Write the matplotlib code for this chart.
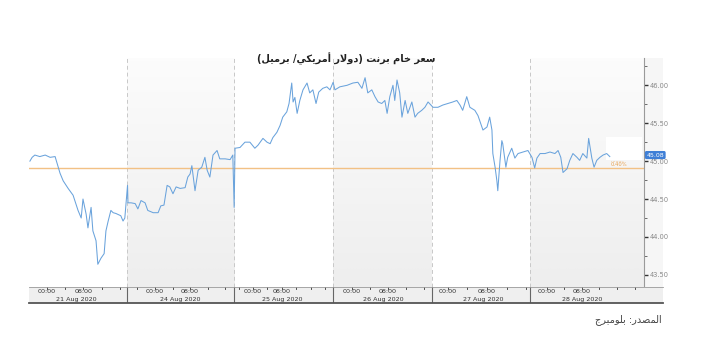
import matplotlib
matplotlib.use("Agg")
import matplotlib.pyplot as plt
import numpy as np
from matplotlib.patches import Rectangle
from matplotlib.colors import LinearSegmentedColormap
from matplotlib.ticker import MultipleLocator, FormatStrFormatter

# hours counted from the left edge of the chart (trading sessions only)
hours = [0.2, 0.7, 1.3, 2.4, 3.6, 4.7, 5.8, 6.2, 6.9, 7.6, 8.7, 9.8, 10.9, 11.6, 12.0,
         12.7, 13.1, 13.8, 14.2, 14.9, 15.3, 16.0, 16.7, 17.1, 17.6, 18.2, 18.7, 19.3,
         20.4, 20.9, 21.3, 21.9, 22.0, 22.7, 23.6, 24.2, 24.9, 25.8, 26.4, 27.6, 28.7,
         29.3, 30.0, 30.7, 31.3, 32.0, 32.7, 33.6, 34.7, 35.3, 35.8, 36.2, 36.9, 37.6,
         38.4, 39.1, 39.6, 40.2, 40.9, 41.8, 42.4, 43.6, 44.7, 45.3, 45.6, 45.8, 46.9,
         48.0, 49.1, 50.2, 50.9, 52.0, 52.9, 53.6, 54.2, 55.1, 55.8, 56.4, 57.3, 57.8,
         58.4, 58.7, 59.1, 59.6, 60.2, 60.9, 61.8, 62.4, 63.1, 63.8, 64.4, 65.3, 66.2,
         66.9, 67.6, 68.0, 69.1, 70.7, 72.0, 73.1, 74.0, 74.7, 75.3, 76.2, 76.9, 77.6,
         78.4, 79.1, 79.6, 80.2, 80.9, 81.3, 81.8, 82.4, 82.9, 83.6, 84.2, 85.1, 85.8,
         86.4, 87.3, 88.0, 88.7, 89.8, 90.9, 92.0, 93.1, 94.2, 95.1, 95.8, 96.4, 97.3,
         98.0, 99.1, 99.8, 100.9, 101.8, 102.4, 102.9, 103.1, 103.6, 104.0, 104.2, 104.7,
         105.1, 105.3, 106.0, 106.4, 107.3, 108.0, 108.7, 109.8, 110.9, 111.8, 112.4,
         112.9, 113.6, 114.7, 115.8, 116.9, 117.6, 118.2, 118.7, 119.6, 120.2, 120.9,
         121.8, 122.4, 123.1, 124.0, 124.4, 125.1, 125.6, 126.2, 126.9, 127.6, 128.4, 129.1]
price = [45.00, 45.05, 45.08, 45.06, 45.08, 45.05, 45.06, 44.98, 44.84, 44.74, 44.64, 44.55,
         44.35, 44.25, 44.50, 44.30, 44.12, 44.39, 44.08, 43.95, 43.64, 43.72, 43.78, 44.08,
         44.21, 44.35, 44.32, 44.31, 44.28, 44.21, 44.25, 44.68, 44.45, 44.45, 44.44, 44.37,
         44.48, 44.45, 44.35, 44.32, 44.32, 44.41, 44.42, 44.68, 44.66, 44.57, 44.66, 44.64,
         44.65, 44.79, 44.83, 44.94, 44.61, 44.88, 44.92, 45.05, 44.88, 44.79, 45.08, 45.14,
         45.03, 45.03, 45.02, 45.08, 44.39, 45.17, 45.18, 45.25, 45.25, 45.17, 45.21, 45.30,
         45.25, 45.23, 45.31, 45.38, 45.47, 45.58, 45.65, 45.76, 46.03, 45.78, 45.84, 45.63,
         45.80, 45.94, 46.03, 45.90, 45.94, 45.76, 45.91, 45.96, 45.98, 45.94, 46.04, 45.94,
         45.98, 46.00, 46.03, 46.04, 45.96, 46.10, 45.90, 45.94, 45.85, 45.78, 45.76, 45.80,
         45.63, 45.85, 46.00, 45.80, 46.07, 45.90, 45.58, 45.80, 45.63, 45.78, 45.58, 45.63,
         45.67, 45.71, 45.78, 45.71, 45.71, 45.74, 45.76, 45.78, 45.80, 45.74, 45.67, 45.85,
         45.71, 45.67, 45.60, 45.41, 45.45, 45.58, 45.41, 45.10, 44.92, 44.74, 44.61, 45.01,
         45.27, 45.23, 44.92, 45.05, 45.17, 45.04, 45.10, 45.12, 45.14, 45.05, 44.91, 45.04,
         45.10, 45.10, 45.12, 45.10, 45.14, 45.05, 44.85, 44.90, 45.01, 45.10, 45.05, 45.01,
         45.10, 45.04, 45.30, 45.04, 44.92, 45.01, 45.05, 45.08, 45.10, 45.06]

ref_level = 44.91
last_price = 45.08
change_label = "0.40%"

day_labels = ["21 Aug 2020", "24 Aug 2020", "25 Aug 2020", "26 Aug 2020", "27 Aug 2020", "28 Aug 2020"]
day_edges = [0, 21.8, 45.6, 67.6, 89.6, 111.3, 136.7]
midnight = [3.9, 28.0, 49.8, 71.7, 93.1, 115.1]
eight_am = [12.1, 35.8, 56.2, 79.8, 101.8, 122.9]
date_pos = [10.6, 33.6, 56.4, 78.7, 100.9, 122.9]

title = "سعر خام برنت (دولار أمريكي/ برميل)"
source = "المصدر: بلومبرج"

FORMS = {
    'ا': ('\ufe8d', '\ufe8e', None, None),
    'أ': ('\ufe83', '\ufe84', None, None),
    'ب': ('\ufe8f', '\ufe90', '\ufe91', '\ufe92'),
    'ت': ('\ufe95', '\ufe96', '\ufe97', '\ufe98'),
    'ج': ('\ufe9d', '\ufe9e', '\ufe9f', '\ufea0'),
    'خ': ('\ufea5', '\ufea6', '\ufea7', '\ufea8'),
    'د': ('\ufea9', '\ufeaa', None, None),
    'ر': ('\ufead', '\ufeae', None, None),
    'س': ('\ufeb1', '\ufeb2', '\ufeb3', '\ufeb4'),
    'ص': ('\ufeb9', '\ufeba', '\ufebb', '\ufebc'),
    'ع': ('\ufec9', '\ufeca', '\ufecb', '\ufecc'),
    'ك': ('\ufed9', '\ufeda', '\ufedb', '\ufedc'),
    'ل': ('\ufedd', '\ufede', '\ufedf', '\ufee0'),
    'م': ('\ufee1', '\ufee2', '\ufee3', '\ufee4'),
    'ن': ('\ufee5', '\ufee6', '\ufee7', '\ufee8'),
    'و': ('\ufeed', '\ufeee', None, None),
    'ي': ('\ufef1', '\ufef2', '\ufef3', '\ufef4'),
    '\ufefb': ('\ufefb', '\ufefc', None, None),
}
MIRROR = {'(': ')', ')': '('}


def rtl(text):
    # poor man's arabic shaping + visual reordering
    text = text.replace('لا', '\ufefb')
    out = []
    for i, c in enumerate(text):
        if c not in FORMS:
            out.append(MIRROR.get(c, c))
            continue
        prev = i > 0 and text[i - 1] in FORMS and FORMS[text[i - 1]][2] is not None
        nxt = i < len(text) - 1 and text[i + 1] in FORMS and FORMS[c][2] is not None
        f = FORMS[c]
        if prev and nxt:
            out.append(f[3])
        elif prev:
            out.append(f[1])
        elif nxt:
            out.append(f[2])
        else:
            out.append(f[0])
    return ''.join(reversed(out))


fig = plt.figure(figsize=(7.2, 3.51), dpi=100)
fig.patch.set_facecolor('white')

W, H = 720.0, 351.0
left, right, top, bottom = 29, 644, 58, 287
ax = fig.add_axes([left / W, 1 - bottom / H, (right - left) / W, (bottom - top) / H])
ax.set_facecolor('white')

ylo, yhi = 43.34, 46.36
grad = LinearSegmentedColormap.from_list('band', ['#eeeeee', '#fcfcfc'])
ramp = np.linspace(0, 1, 64).reshape(-1, 1)
# alternating day bands, grey ones fade towards the top
for i in range(len(day_labels)):
    if i % 2 == 1:
        ax.imshow(ramp, extent=[day_edges[i], day_edges[i + 1], ylo, yhi], cmap=grad,
                  aspect='auto', origin='lower', zorder=0, interpolation='bilinear')
for e in day_edges[1:-1]:
    ax.axvline(e, color='#c8c8c8', lw=0.7, ls=(0, (4, 3)), zorder=1)

ax.axhline(ref_level, color='#f2c185', lw=1.0, zorder=2)
ax.plot(hours, price, color='#6aa3dc', lw=0.75, zorder=3)

# small white patch behind the change label
ax.add_patch(Rectangle((128.3, 45.02), 8.0, 0.3, facecolor='white', edgecolor='none', zorder=1))
ax.text(129.2, ref_level + 0.015, change_label, color='#e8a14e', fontsize=3.8, va='bottom', ha='left', zorder=4)
ax.plot([129.4, 132.0], [ref_level + 0.09, ref_level + 0.09], color='#e8a14e', lw=0.4, ls=':', zorder=4)

ax.set_xlim(day_edges[0], day_edges[-1])
ax.set_ylim(ylo, yhi)
ax.set_xticks([])
ax.yaxis.tick_right()
ax.yaxis.set_minor_locator(MultipleLocator(0.25))
ax.yaxis.set_major_formatter(FormatStrFormatter('%.2f'))
ax.set_yticks([43.5, 44.0, 44.5, 45.0, 45.5, 46.0])
ax.tick_params(axis='y', which='major', length=3, width=1.0, color='#333333',
               labelsize=4.8, labelcolor='#888888', pad=1)
ax.tick_params(axis='y', which='minor', length=2, width=0.6, color='#555555')
for s in ['top', 'left', 'bottom']:
    ax.spines[s].set_visible(False)
ax.spines['right'].set_color('#9a9a9a')
ax.spines['right'].set_linewidth(0.8)

# last price tag
ax.text(1.004, last_price, "%.2f" % last_price, transform=ax.get_yaxis_transform(),
        fontsize=4.5, color='white', va='center', ha='left', zorder=6,
        bbox=dict(boxstyle='round,pad=0.25', facecolor='#3f7fd6', edgecolor='none'))

# right label strip
fig.patches.append(Rectangle((right / W, 1 - bottom / H), 19 / W, (bottom - top) / H,
                             transform=fig.transFigure, facecolor='#f6f6f6', edgecolor='none', zorder=-1))

# date strip under the chart
strip_right = 663
sx = fig.add_axes([left / W, 1 - 303 / H, (strip_right - left) / W, 16 / H])
sx.set_facecolor('#efefef')
span = day_edges[-1] * (strip_right - left) / (right - left)
sx.set_xlim(0, span)
sx.set_ylim(0, 1)
sx.set_xticks([])
sx.set_yticks([])
for s in ['left', 'right']:
    sx.spines[s].set_visible(False)
sx.spines['top'].set_color('#999999')
sx.spines['top'].set_linewidth(0.6)
sx.spines['bottom'].set_color('#555555')
sx.spines['bottom'].set_linewidth(1.3)
for e in day_edges[1:-1]:
    sx.axvline(e, color='#666666', lw=0.8)
for i in range(len(day_labels)):
    step = (eight_am[i] - midnight[i]) / 2
    for k in range(-2, 6):
        t = midnight[i] + k * step
        if day_edges[i] + 0.5 < t < day_edges[i + 1] - 0.5:
            sx.plot([t, t], [1.0, 0.86], color='#333333', lw=0.6)
    sx.text(midnight[i], 0.72, "00:00", fontsize=4.6, color='#333333', ha='center', va='center')
    sx.text(eight_am[i], 0.72, "08:00", fontsize=4.6, color='#333333', ha='center', va='center')
    sx.text(date_pos[i], 0.25, day_labels[i], fontsize=4.6, color='#333333', ha='center', va='center')

fig.text(346 / W, 1 - 59 / H, rtl(title), fontsize=7, fontweight='bold',
         ha='center', va='center', color='#222222', family='DejaVu Sans')
fig.text(662 / W, 1 - 320 / H, rtl(source), fontsize=7, ha='right', va='center',
         color='#444444', family='DejaVu Sans')

fig.savefig('out.png', dpi=100, facecolor='white')
